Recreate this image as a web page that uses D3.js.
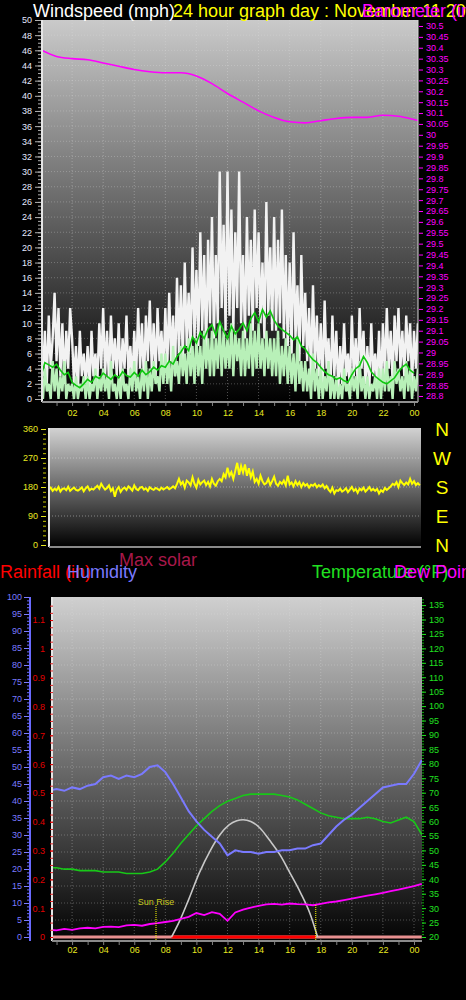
<!DOCTYPE html>
<html>
<head>
<meta charset="utf-8">
<script src="https://cdn.jsdelivr.net/npm/d3@7"></script>
<style>
    body { margin: 0; background: #000; }
    svg { display: block; font-family: "Liberation Sans", Arial, sans-serif; }
</style>
</head>
<body>
<div id="chart"></div>
<script>
// time axis
const hourTicks = [2, 4, 6, 8, 10, 12, 14, 16, 18, 20, 22, 24];
const hourLabels = ["02", "04", "06", "08", "10", "12", "14", "16", "18", "20", "22", "00"];

// wind gust (mph), 8 samples per hour from 00:00
const gust = [
    10, 3, 9, 2, 11, 4, 8, 14,
    5, 12, 3, 10, 2, 9, 4, 12,
    8, 2, 7, 1, 9, 3, 6, 2,
    7, 1, 9, 3, 6, 2, 10, 4,
    12, 3, 9, 2, 11, 4, 8, 3,
    10, 2, 8, 4, 11, 3, 7, 2,
    9, 3, 12, 4, 10, 2, 11, 5,
    13, 4, 10, 3, 12, 5, 9, 3,
    12, 4, 14, 5, 11, 3, 16, 6,
    15, 5, 18, 7, 14, 6, 20, 8,
    17, 7, 22, 9, 19, 6, 21, 10,
    24, 8, 19, 10, 30, 12, 23, 9,
    30, 11, 25, 9, 22, 12, 30, 10,
    19, 8, 24, 11, 21, 9, 25, 12,
    22, 10, 18, 8, 26, 11, 20, 9,
    24, 9, 21, 10, 25, 8, 19, 7,
    18, 6, 22, 8, 15, 5, 19, 7,
    14, 5, 12, 3, 15, 4, 11, 3,
    10, 2, 13, 4, 8, 1, 11, 3,
    9, 1, 7, 2, 10, 3, 6, 1,
    11, 3, 8, 2, 12, 4, 9, 2,
    7, 1, 10, 3, 6, 2, 9, 1,
    10, 3, 12, 4, 9, 2, 11, 5,
    12, 4, 9, 3, 11, 5, 10, 2,
    9, 4, 10
];

// wind speed (mph), 8 samples per hour from 00:00
const windSpeed = [
    3, 0, 4, 1, 2, 0, 5, 1,
    4, 0, 3, 1, 5, 0, 2, 1,
    2, 0, 3, 0, 2, 1, 3, 0,
    3, 0, 2, 1, 4, 0, 3, 1,
    4, 1, 3, 0, 5, 1, 2, 0,
    3, 0, 4, 1, 2, 0, 4, 1,
    5, 1, 3, 0, 4, 1, 5, 0,
    4, 1, 5, 2, 3, 1, 6, 2,
    6, 2, 5, 1, 7, 3, 5, 2,
    7, 3, 6, 2, 8, 3, 7, 2,
    8, 3, 7, 2, 9, 4, 8, 3,
    9, 3, 8, 4, 10, 3, 9, 4,
    8, 4, 10, 3, 9, 5, 8, 3,
    9, 3, 8, 4, 10, 3, 9, 4,
    10, 4, 8, 3, 9, 4, 8, 3,
    8, 3, 9, 2, 7, 3, 8, 2,
    7, 2, 6, 1, 8, 2, 5, 1,
    5, 1, 4, 0, 6, 1, 4, 0,
    4, 0, 3, 1, 5, 0, 3, 0,
    3, 0, 2, 0, 4, 1, 2, 0,
    4, 1, 3, 0, 5, 1, 3, 0,
    3, 0, 2, 1, 3, 0, 4, 0,
    4, 1, 5, 1, 3, 0, 5, 2,
    4, 1, 3, 0, 5, 1, 4, 0,
    3, 1, 4
];

// average wind (mph), 4 samples per hour from 00:00
const avgWind = [
    3.0, 4.8, 4.5, 4.2, 4.6, 3.8, 3.2, 3.5,
    2.2, 1.8, 1.5, 2.0, 2.6, 2.2, 3.0, 2.7,
    3.4, 3.0, 2.6, 3.2, 2.8, 3.6, 3.1, 2.9,
    3.5, 3.0, 3.8, 3.2, 3.6, 4.2, 3.8, 4.4,
    4.2, 5.0, 4.6, 5.6, 6.2, 7.0, 6.4, 8.2,
    7.4, 8.8, 8.0, 9.2, 9.8, 8.4, 10.2, 9.0,
    8.0, 9.6, 8.6, 9.2, 10.0, 9.0, 10.6, 11.4,
    10.2, 11.8, 10.8, 11.6, 10.4, 9.6, 9.2, 8.8,
    8.4, 7.8, 8.2, 7.0, 6.6, 5.8, 5.2, 4.8,
    4.2, 3.6, 3.2, 3.0, 2.6, 2.8, 2.4, 2.2,
    3.2, 4.0, 4.4, 5.6, 4.8, 3.6, 3.0, 2.6,
    2.2, 2.0, 2.4, 2.8, 3.6, 4.2, 4.6, 3.8,
    3.4
];

// barometer (inHg)
const baroHours = [0, 1, 2, 3, 4, 5, 6, 7, 8, 9, 10, 11, 12, 13, 14, 15, 16, 17, 18, 19, 20, 21, 22, 23, 24, 24.3];
const baro = [30.39, 30.36, 30.35, 30.345, 30.33, 30.315, 30.30, 30.29, 30.285, 30.285, 30.27, 30.235, 30.19,
    30.15, 30.11, 30.08, 30.06, 30.055, 30.065, 30.075, 30.08, 30.08, 30.09, 30.085, 30.07, 30.065];

// wind direction (degrees), 8 samples per hour from 00:30
const windDir = [
    172, 178, 168, 175, 170, 180, 166, 174,
    176, 170, 181, 168, 174, 178, 171, 169,
    173, 179, 167, 176, 182, 170, 175, 172,
    178, 184, 175, 190, 180, 172, 177, 185,
    168, 176, 150, 172, 180, 165, 174, 178,
    171, 182, 176, 169, 185, 174, 170, 178,
    180, 172, 176, 168, 179, 174, 171, 177,
    174, 170, 178, 172, 176, 180, 173, 177,
    182, 176, 190, 205, 188, 196, 178, 200,
    194, 185, 210, 190, 178, 202, 188, 195,
    200, 186, 196, 182, 205, 190, 184, 198,
    205, 198, 220, 210, 240, 215, 226, 205,
    230, 255, 218, 245, 225, 250, 215, 238,
    210, 228, 196, 205, 190, 215, 198, 188,
    192, 205, 186, 198, 212, 190, 184, 196,
    190, 200, 185, 215, 188, 194, 182, 198,
    186, 195, 180, 192, 184, 189, 178, 187,
    184, 190, 179, 186, 181, 188, 176, 183,
    172, 165, 178, 160, 170, 168, 175, 166,
    170, 176, 164, 172, 180, 168, 174, 162,
    175, 170, 178, 166, 172, 180, 169, 174,
    168, 174, 160, 170, 165, 177, 171, 176,
    182, 190, 186, 195, 180, 200, 192, 186,
    194, 188, 205, 190, 198, 186, 192, 185
];

// humidity (%), temperature and dew point (F): half-hourly from 00:30
const humidity = [43, 43.5, 43, 44, 43.5, 44.5, 45, 47, 47.5, 46.5, 47.5, 47, 48, 50, 50.5, 48.5,
    45, 41, 37, 34, 31.5, 29.5, 27.5, 24, 25.5, 25, 25, 24.5, 25, 25, 25.5, 25.5,
    26, 26, 27, 27.5, 30, 32.5, 34.5, 36, 38, 40, 42, 44, 44.5, 45, 45, 48, 52];
const temperature = [44, 44, 43.5, 43.5, 43, 43, 43, 42.5, 42.5, 42.5, 42, 42, 42, 42.5, 43.5, 46,
    49, 52.5, 55.5, 58.5, 61, 63.5, 65.5, 67, 68, 69, 69.5, 69.5, 69.5, 69.5, 69, 68.5,
    67.5, 66, 64.5, 63, 62, 61.5, 61, 61, 61, 61.5, 61, 60, 59.5, 60.5, 61.5, 60, 55.5];
const dewPoint = [22.5, 22.3, 22.8, 22.5, 23, 23.2, 23, 23.5, 23.6, 23.4, 24, 24.2, 23.9, 24.5, 24.8, 25.2,
    25.6, 26.3, 27, 28.3, 27.6, 28.6, 28, 25.6, 28.5, 29.5, 30.2, 30.8, 31.3, 31.5, 31.2, 31.6,
    31.4, 31.3, 31, 31.5, 32, 32.3, 32.8, 33.3, 33.8, 34.3, 34.8, 35.3, 35.9, 36.4, 37, 37.6, 38.4];

// theoretical max solar (W/m2)
const solarHours = [8.4, 8.9, 9.5, 10.2, 10.9, 11.5, 12.1, 12.6, 13.0, 13.5, 14.1, 14.7, 15.4, 16.0, 16.7, 17.3, 17.8];
const maxSolar = [0, 45, 110, 190, 255, 300, 330, 342, 345, 340, 320, 285, 240, 190, 130, 70, 0];

// rainfall (in)
const rainHours = [0.5, 24.5];
const rain = [0, 0];
const sunRise = 7.4;
const sunSet = 17.68;

(function () {
    "use strict";

    var svg = d3.select("#chart")
        .append("svg")
        .attr("width", 466)
        .attr("height", 1000);

    var defs = svg.append("defs");

    function gradient(id, topColor, bottomColor) {
        var g = defs.append("linearGradient")
            .attr("id", id)
            .attr("x1", 0).attr("y1", 0).attr("x2", 0).attr("y2", 1);
        g.append("stop").attr("offset", "0%").attr("stop-color", topColor);
        g.append("stop").attr("offset", "100%").attr("stop-color", bottomColor);
    }
    gradient("gradTop", "#cacaca", "#000000");
    gradient("gradDir", "#d2d2d2", "#000000");
    gradient("gradBottom", "#d0d0d0", "#030303");

    function clip(id, p) {
        defs.append("clipPath").attr("id", id)
            .append("rect")
            .attr("x", p.left).attr("y", p.top)
            .attr("width", p.right - p.left).attr("height", p.bottom - p.top);
    }

    // shared time scale
    var x = d3.scaleLinear().domain([0, 24]).range([41, 414]);

    function label(txt, xPos, yPos, color, size) {
        svg.append("text")
            .attr("x", xPos).attr("y", yPos)
            .style("fill", color)
            .style("font-size", size + "px")
            .text(txt);
    }

    function styleAxis(g, color, fontSize) {
        g.select(".domain").remove();
        g.selectAll("line").attr("stroke", color);
        g.selectAll("text")
            .style("fill", color)
            .style("font-size", fontSize + "px")
            .style("font-family", "Liberation Sans, Arial, sans-serif");
    }

    // ---------- top panel: wind + barometer ----------
    var topP = { left: 42, right: 418, top: 20, bottom: 402 };
    var yWind = d3.scaleLinear().domain([0, 50]).range([399, 20]);
    var yBaro = d3.scaleLinear().domain([28.8, 30.5]).range([396, 26]);

    svg.append("rect")
        .attr("x", topP.left).attr("y", topP.top)
        .attr("width", topP.right - topP.left).attr("height", topP.bottom - topP.top)
        .attr("fill", "url(#gradTop)");
    clip("clipTop", topP);

    var gridTop = svg.append("g").attr("clip-path", "url(#clipTop)");
    gridTop.selectAll("hl")
        .data(d3.range(2, 50, 2))
        .enter().append("line")
        .attr("x1", topP.left).attr("x2", topP.right)
        .attr("y1", function (d) { return yWind(d); })
        .attr("y2", function (d) { return yWind(d); })
        .attr("stroke", "#e0e0e0").attr("stroke-opacity", 0.3)
        .attr("stroke-dasharray", "1,2");
    gridTop.selectAll("vl")
        .data(hourTicks)
        .enter().append("line")
        .attr("x1", function (d) { return x(d); })
        .attr("x2", function (d) { return x(d); })
        .attr("y1", topP.top).attr("y2", topP.bottom)
        .attr("stroke", "#e0e0e0").attr("stroke-opacity", 0.35)
        .attr("stroke-dasharray", "1,2");

    var plotTop = svg.append("g").attr("clip-path", "url(#clipTop)");

    var lineGust = d3.line()
        .x(function (d, i) { return x(i / 8); })
        .y(function (d) { return yWind(d); });
    plotTop.append("path")
        .attr("d", lineGust(gust))
        .attr("fill", "none")
        .attr("stroke", "#f2f2f2")
        .attr("stroke-width", 2.4)
        .attr("stroke-linejoin", "bevel");

    plotTop.append("path")
        .attr("d", lineGust(windSpeed))
        .attr("fill", "none")
        .attr("stroke", "#b8f0b8")
        .attr("stroke-width", 2.4)
        .attr("stroke-linejoin", "bevel");

    var lineAvg = d3.line()
        .x(function (d, i) { return x(i / 4); })
        .y(function (d) { return yWind(d); });
    plotTop.append("path")
        .attr("d", lineAvg(avgWind))
        .attr("fill", "none")
        .attr("stroke", "#10c810")
        .attr("stroke-width", 1.6);

    var lineBaro = d3.line()
        .x(function (d, i) { return x(baroHours[i]); })
        .y(function (d) { return yBaro(d); })
        .curve(d3.curveMonotoneX);
    plotTop.append("path")
        .attr("d", lineBaro(baro))
        .attr("fill", "none")
        .attr("stroke", "#ff00ff")
        .attr("stroke-width", 1.6);

    // borders
    svg.append("line")
        .attr("x1", topP.left).attr("x2", topP.left)
        .attr("y1", topP.top).attr("y2", topP.bottom)
        .attr("stroke", "#e6e6e6").attr("stroke-width", 2);
    svg.append("line")
        .attr("x1", topP.right).attr("x2", topP.right)
        .attr("y1", topP.top).attr("y2", topP.bottom)
        .attr("stroke", "#d8d8d8").attr("stroke-width", 1);
    svg.append("line")
        .attr("x1", topP.left).attr("x2", topP.right)
        .attr("y1", topP.bottom).attr("y2", topP.bottom)
        .attr("stroke", "#909090").attr("stroke-width", 2);

    // left wind axis
    var gMinor = svg.append("g")
        .attr("transform", "translate(" + (topP.left - 1) + ",0)")
        .call(d3.axisLeft(yWind).tickValues(d3.range(0, 50.01, 0.5)).tickSize(3).tickFormat(""));
    styleAxis(gMinor, "#b0b0b0", 9);
    var gWind = svg.append("g")
        .attr("transform", "translate(" + (topP.left - 1) + ",0)")
        .call(d3.axisLeft(yWind).tickValues(d3.range(0, 51, 2)).tickSize(6).tickPadding(3));
    styleAxis(gWind, "#e4e8ff", 9);
    gWind.selectAll("line").attr("stroke", "#b0b0b0");

    // right baro axis
    var gBaro = svg.append("g")
        .attr("transform", "translate(" + (topP.right + 1) + ",0)")
        .call(d3.axisRight(yBaro)
            .tickValues(d3.range(0, 35).map(function (i) { return 28.8 + i * 0.05; }))
            .tickSize(4).tickPadding(3)
            .tickFormat(function (d) { return String(+d.toFixed(2)); }));
    styleAxis(gBaro, "#ff00ff", 9);

    // x axis
    var gXt = svg.append("g")
        .attr("transform", "translate(0," + (topP.bottom + 1) + ")")
        .call(d3.axisBottom(x).tickValues(d3.range(1, 25)).tickSize(3).tickFormat(""));
    styleAxis(gXt, "#808080", 9);
    var gX = svg.append("g")
        .attr("transform", "translate(0," + (topP.bottom + 1) + ")")
        .call(d3.axisBottom(x).tickValues(hourTicks).tickSize(0).tickPadding(7)
            .tickFormat(function (d, i) { return hourLabels[i]; }));
    styleAxis(gX, "#e8e820", 9);

    // ---------- wind direction panel ----------
    var dirP = { left: 49, right: 421, top: 428, bottom: 547 };
    var yDir = d3.scaleLinear().domain([0, 360]).range([545, 429]);

    svg.append("rect")
        .attr("x", dirP.left).attr("y", dirP.top)
        .attr("width", dirP.right - dirP.left).attr("height", dirP.bottom - dirP.top)
        .attr("fill", "url(#gradDir)");
    clip("clipDir", dirP);

    var plotDir = svg.append("g").attr("clip-path", "url(#clipDir)");
    plotDir.selectAll("dl")
        .data([90, 180, 270])
        .enter().append("line")
        .attr("x1", dirP.left).attr("x2", dirP.right)
        .attr("y1", function (d) { return yDir(d); })
        .attr("y2", function (d) { return yDir(d); })
        .attr("stroke", "#e8e8e8").attr("stroke-opacity", 0.45)
        .attr("stroke-dasharray", "1,2");

    var lineDir = d3.line()
        .x(function (d, i) { return x(0.5 + i / 8); })
        .y(function (d) { return yDir(d); });
    plotDir.append("path")
        .attr("d", lineDir(windDir))
        .attr("fill", "none")
        .attr("stroke", "#ffff00")
        .attr("stroke-width", 2);

    svg.append("line")
        .attr("x1", dirP.left).attr("x2", dirP.left)
        .attr("y1", dirP.top).attr("y2", dirP.bottom)
        .attr("stroke", "#e6e6e6").attr("stroke-width", 2);
    svg.append("line")
        .attr("x1", dirP.left).attr("x2", dirP.right)
        .attr("y1", dirP.bottom).attr("y2", dirP.bottom)
        .attr("stroke", "#8a8a8a").attr("stroke-width", 2);

    var gDirMinor = svg.append("g")
        .attr("transform", "translate(" + (dirP.left - 3) + ",0)")
        .call(d3.axisLeft(yDir).tickValues(d3.range(0, 361, 15)).tickSize(3).tickFormat(""));
    styleAxis(gDirMinor, "#c8c800", 9);
    var gDir = svg.append("g")
        .attr("transform", "translate(" + (dirP.left - 3) + ",0)")
        .call(d3.axisLeft(yDir).tickValues([0, 90, 180, 270, 360]).tickSize(5).tickPadding(3));
    styleAxis(gDir, "#e8e820", 9);

    // compass letters
    var compass = ["N", "W", "S", "E", "N"];
    svg.selectAll("compass")
        .data([360, 270, 180, 90, 0])
        .enter().append("text")
        .attr("x", 442)
        .attr("y", function (d) { return yDir(d); })
        .attr("dy", "0.36em")
        .style("text-anchor", "middle")
        .style("fill", "#ffff00")
        .style("font-size", "19px")
        .text(function (d, i) { return compass[i]; });

    // ---------- bottom panel: temp / humidity / rain / solar ----------
    var botP = { left: 52, right: 422, top: 597, bottom: 941 };
    var yHum = d3.scaleLinear().domain([0, 100]).range([937, 597]);
    var yRain = d3.scaleLinear().domain([0, 1.18]).range([937, 597]);
    var yTemp = d3.scaleLinear().domain([20, 137.8]).range([937, 597]);
    var ySolar = d3.scaleLinear().domain([0, 1000]).range([937, 597]);

    svg.append("rect")
        .attr("x", botP.left).attr("y", botP.top)
        .attr("width", botP.right - botP.left).attr("height", botP.bottom - botP.top)
        .attr("fill", "url(#gradBottom)");
    clip("clipBot", botP);

    var gridBot = svg.append("g").attr("clip-path", "url(#clipBot)");
    gridBot.selectAll("hl")
        .data(d3.range(5, 100, 5))
        .enter().append("line")
        .attr("x1", botP.left).attr("x2", botP.right)
        .attr("y1", function (d) { return yHum(d); })
        .attr("y2", function (d) { return yHum(d); })
        .attr("stroke", "#e0e0e0").attr("stroke-opacity", 0.3)
        .attr("stroke-dasharray", "1,2");
    gridBot.selectAll("vl")
        .data(hourTicks)
        .enter().append("line")
        .attr("x1", function (d) { return x(d); })
        .attr("x2", function (d) { return x(d); })
        .attr("y1", botP.top).attr("y2", botP.bottom)
        .attr("stroke", "#e0e0e0").attr("stroke-opacity", 0.35)
        .attr("stroke-dasharray", "1,2");

    var plotBot = svg.append("g").attr("clip-path", "url(#clipBot)");

    // rainfall baseline, red through daylight
    var lineRain = d3.line()
        .x(function (d, i) { return x(rainHours[i]); })
        .y(function (d) { return yRain(d); });
    plotBot.append("path")
        .attr("d", lineRain(rain))
        .attr("fill", "none")
        .attr("stroke", "#e89090")
        .attr("stroke-width", 3);
    plotBot.append("line")
        .attr("x1", x(solarHours[0])).attr("x2", x(sunSet))
        .attr("y1", yRain(0)).attr("y2", yRain(0))
        .attr("stroke", "#ff0000")
        .attr("stroke-width", 3);

    var halfHour = function (d, i) { return x(0.5 + i / 2); };

    plotBot.append("path")
        .attr("d", d3.line().x(function (d, i) { return x(solarHours[i]); })
            .y(function (d) { return ySolar(d); }).curve(d3.curveMonotoneX)(maxSolar))
        .attr("fill", "none")
        .attr("stroke", "#c8c8c8")
        .attr("stroke-width", 1.6);

    plotBot.append("path")
        .attr("d", d3.line().x(halfHour).y(function (d) { return yTemp(d); })(dewPoint))
        .attr("fill", "none")
        .attr("stroke", "#ff00ff")
        .attr("stroke-width", 1.8);

    plotBot.append("path")
        .attr("d", d3.line().x(halfHour).y(function (d) { return yTemp(d); })(temperature))
        .attr("fill", "none")
        .attr("stroke", "#18c818")
        .attr("stroke-width", 1.6);

    plotBot.append("path")
        .attr("d", d3.line().x(halfHour).y(function (d) { return yHum(d); })(humidity))
        .attr("fill", "none")
        .attr("stroke", "#7a7aff")
        .attr("stroke-width", 2);

    // sun rise / sun set markers
    [sunRise, sunSet].forEach(function (h) {
        svg.append("line")
            .attr("x1", x(h)).attr("x2", x(h))
            .attr("y1", 905).attr("y2", 940)
            .attr("stroke", "#ffff00")
            .attr("stroke-width", 1)
            .attr("stroke-dasharray", "1,1");
    });
    svg.append("text")
        .attr("x", x(sunRise))
        .attr("y", 905)
        .style("text-anchor", "middle")
        .style("fill", "#c8c820")
        .style("font-size", "9px")
        .text("Sun Rise");

    svg.append("line")
        .attr("x1", botP.left).attr("x2", botP.left)
        .attr("y1", botP.top).attr("y2", botP.bottom)
        .attr("stroke", "#e6e6e6").attr("stroke-width", 2);
    svg.append("line")
        .attr("x1", botP.left).attr("x2", botP.right)
        .attr("y1", botP.bottom).attr("y2", botP.bottom)
        .attr("stroke", "#8a8a8a").attr("stroke-width", 2);

    // humidity axis (blue)
    svg.append("line")
        .attr("x1", 30).attr("x2", 30)
        .attr("y1", botP.top).attr("y2", botP.bottom)
        .attr("stroke", "#6a6aff").attr("stroke-width", 2);
    var gHumMinor = svg.append("g")
        .attr("transform", "translate(29,0)")
        .call(d3.axisLeft(yHum).tickValues(d3.range(0, 101, 1)).tickSize(2).tickFormat(""));
    styleAxis(gHumMinor, "#6a6aff", 9);
    var gHum = svg.append("g")
        .attr("transform", "translate(29,0)")
        .call(d3.axisLeft(yHum).tickValues(d3.range(0, 101, 5)).tickSize(5).tickPadding(2));
    styleAxis(gHum, "#7a7aff", 9);

    // rain axis (red)
    var gRainMinor = svg.append("g")
        .attr("transform", "translate(53,0)")
        .call(d3.axisLeft(yRain).tickValues(d3.range(0, 47).map(function (i) { return i * 0.025; }))
            .tickSize(3).tickFormat(""));
    styleAxis(gRainMinor, "#e02020", 9);
    var gRain = svg.append("g")
        .attr("transform", "translate(53,0)")
        .call(d3.axisLeft(yRain).tickValues(d3.range(0, 12).map(function (i) { return i / 10; }))
            .tickSize(3).tickPadding(5)
            .tickFormat(function (d) { return String(+d.toFixed(1)); }));
    styleAxis(gRain, "#e00000", 9);

    // temperature axis (green)
    var gTempMinor = svg.append("g")
        .attr("transform", "translate(" + (botP.right) + ",0)")
        .call(d3.axisRight(yTemp).tickValues(d3.range(20, 138, 1)).tickSize(2).tickFormat(""));
    styleAxis(gTempMinor, "#10b010", 9);
    var gTemp = svg.append("g")
        .attr("transform", "translate(" + (botP.right) + ",0)")
        .call(d3.axisRight(yTemp).tickValues(d3.range(20, 136, 5)).tickSize(4).tickPadding(3));
    styleAxis(gTemp, "#20e020", 9);

    var gXb = svg.append("g")
        .attr("transform", "translate(0," + (botP.bottom + 1) + ")")
        .call(d3.axisBottom(x).tickValues(d3.range(1, 25)).tickSize(3).tickFormat(""));
    styleAxis(gXb, "#808080", 9);
    var gXb2 = svg.append("g")
        .attr("transform", "translate(0," + (botP.bottom + 1) + ")")
        .call(d3.axisBottom(x).tickValues(hourTicks).tickSize(0).tickPadding(5)
            .tickFormat(function (d, i) { return hourLabels[i]; }));
    styleAxis(gXb2, "#e8e820", 9);

    // ---------- titles ----------
    label("Windspeed (mph)", 33, 17, "#ffffff", 18);
    label("24 hour graph day : November 11 2012", 173, 17, "#ffff00", 18);
    label("Barometer (in)", 362, 17, "#ff00ff", 18);

    label("Max solar", 119, 566, "#a8184a", 18);
    label("Rainfall (in)", 0, 578, "#ff0000", 18);
    label("Humidity", 67, 578, "#7a7aff", 18);
    label("Temperature (\u00b0F)", 312, 578, "#20e020", 18);
    label("Dew Point", 394, 578, "#ff00ff", 18);
})();
</script>
</body>
</html>
